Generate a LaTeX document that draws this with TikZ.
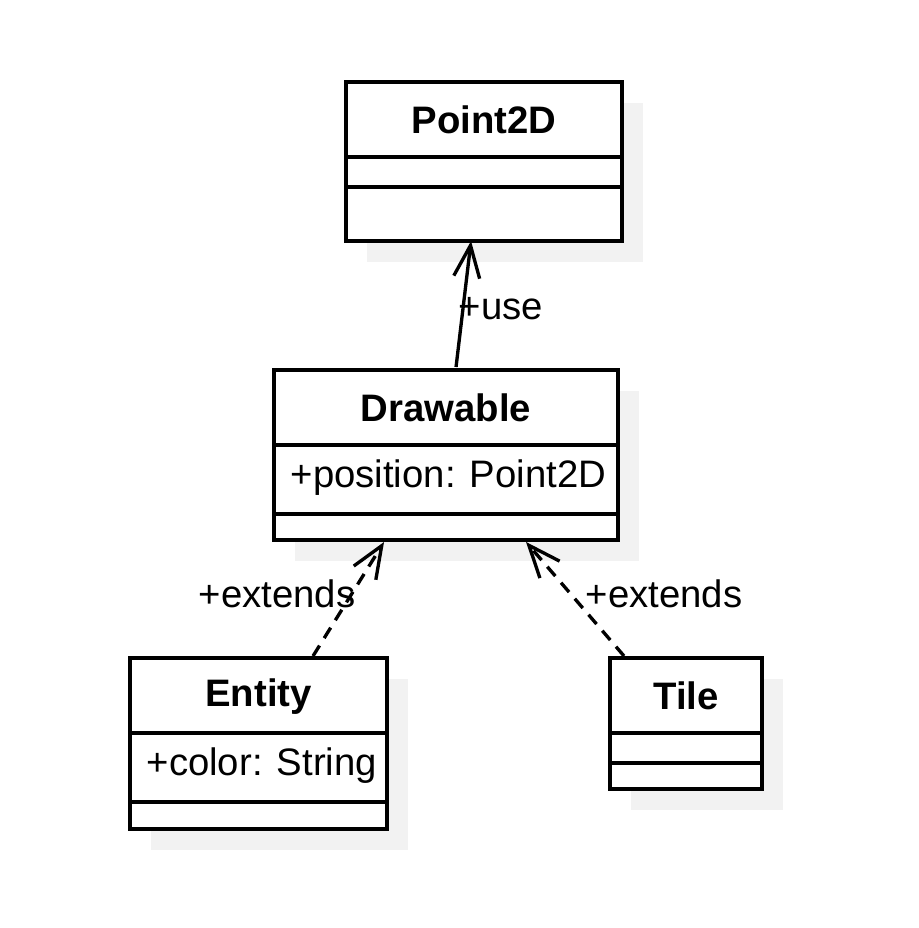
\documentclass[tikz,border=0pt]{standalone}
\usepackage{fontspec}
\setmainfont{Liberation Sans}
\usepackage{tikz}
\usetikzlibrary{arrows.meta,calc}
\definecolor{shadowgray}{HTML}{F2F2F2}

\begin{document}
\begin{tikzpicture}[x=0.02cm,y=-0.02cm,line width=1.9pt,
    font=\fontsize{21.8}{26}\selectfont,
    box/.style={draw,fill=white,inner sep=0pt,outer sep=0pt},
    title/.style={font=\fontsize{21.8}{26}\selectfont\bfseries},
    attr/.style={anchor=west,inner sep=0pt},
    lbl/.style={inner sep=0pt},
    assoc/.style={-{Straight Barb[length=0.64cm,width=0.52cm,line width=1.9pt]}},
    real/.style={assoc,dash pattern=on 7pt off 5pt}]
    \useasboundingbox (0,0) rectangle (918,928);
    % shadows
    \fill[shadowgray] (367,103) rectangle (643,262);
    \fill[shadowgray] (295,391) rectangle (639,561);
    \fill[shadowgray] (151,679) rectangle (408,850);
    \fill[shadowgray] (631,679) rectangle (783,810);
    % Point2D
    \node[box,minimum width=5.52cm,minimum height=3.18cm] (pt) at (484,161.5) {};
    \node[title] (pttitle) at (484,120) {Point2D};
    \draw (346,157) -- (622,157);
    \draw (346,187) -- (622,187);
    % Drawable
    \node[box,minimum width=6.88cm,minimum height=3.4cm] (dr) at (446,455) {};
    \node[title] (drtitle) at (446,408) {Drawable};
    \draw (274,445) -- (618,445);
    \node[attr] (drattr) at (289,478) {+position: Point2D};
    \draw (274,514) -- (618,514);
    % Entity
    \node[box,minimum width=5.14cm,minimum height=3.42cm] (en) at (258.5,743.5) {};
    \node[title] (entitle) at (258.5,697) {Entity};
    \draw (130,733) -- (387,733);
    \node[attr] (enattr) at (145,766) {+color: String};
    \draw (130,802) -- (387,802);
    % Tile
    \node[box,minimum width=3.04cm,minimum height=2.62cm] (ti) at (686,723.5) {};
    \node[title] (tititle) at (686,696) {Tile};
    \draw (610,733) -- (762,733);
    \draw (610,763) -- (762,763);
    % relations
    \draw[assoc] ($(dr.north west)+(182,-3)$) -- ($(pt.south west)+(125,0)$);
    \node[lbl] (use) at (501,309) {+use};
    \draw[real] ($(en.north west)+(183,-2)$) -- ($(dr.south west)+(110,2)$);
    \node[lbl] (ext1) at (277,594) {+extends};
    \draw[real] ($(ti.north west)+(14,-2)$) -- ($(dr.south west)+(252,2)$);
    \node[lbl] (ext2) at (664,594) {+extends};
\end{tikzpicture}
\end{document}
